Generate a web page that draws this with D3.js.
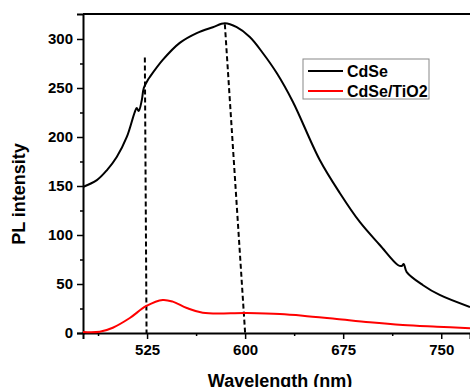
<!DOCTYPE html>
<html>
<head>
<meta charset="utf-8">
<script src="https://cdn.jsdelivr.net/npm/d3@7"></script>
<style>
  body { margin: 0; background: #fff; }
  svg { display: block; font-family: "Liberation Sans", Arial, sans-serif; }
</style>
</head>
<body>
<div id="chart"></div>
<script>
// CdSe spectrum (wavelength nm, PL intensity)
const cdseWave = [476, 486.6, 494.2, 501.8, 509.5, 515.6, 517.1, 518.6, 521, 522.5, 525.5, 527, 537, 550, 563, 575.3, 584.5, 593.6, 603.6, 613.5, 624.3, 636.5, 657.1, 672.4, 687.7, 703, 716.8, 719.8, 721.3, 723.6, 735.8, 748.8, 772];
const cdseInt  = [149, 156, 166, 179.6, 200, 225.5, 229.6, 226.5, 237.8, 250, 258, 261, 278.6, 296, 306, 312, 316, 312, 302, 285.7, 265, 236, 176.5, 142.9, 113.3, 89.8, 69.4, 68.4, 70.4, 62.2, 49, 38.8, 26.5];

// CdSe/TiO2 spectrum
const tio2Wave = [476, 488.8, 498.8, 511.8, 524.5, 537, 544.7, 555.4, 567.6, 601.3, 626.5, 644.1, 670.1, 695.4, 720.6, 746.7, 772];
const tio2Int  = [1, 1.3, 5.4, 15.3, 27.6, 33.7, 32, 25.5, 20.7, 20.4, 19.4, 17.7, 14.3, 10.9, 8.2, 6.4, 4.8];

// dashed guide lines: [x1, y1, x2, y2] in data units
const guideLines = [[523.3, 281, 524.6, 0], [584.5, 315, 600, 0]];

const xTicks = [525, 600, 675, 750];
const xMinor = [487.5, 562.5, 637.5, 712.5];
const yTicks = [0, 50, 100, 150, 200, 250, 300];
const yMinor = [25, 75, 125, 175, 225, 275];

const seriesNames = ["CdSe", "CdSe/TiO2"];
const seriesColors = ["#000000", "#ff0000"];

const W = 470, H = 387;
const svg = d3.select("#chart").append("svg").attr("width", W).attr("height", H);

const x = d3.scaleLinear().domain([476, 772]).range([83, 470]);
const y = d3.scaleLinear().domain([0, 325.5]).range([333, 14]);

// frame top
svg.append("line")
	.attr("x1", 83).attr("x2", W).attr("y1", 14).attr("y2", 14)
	.attr("stroke", "#000").attr("stroke-width", 2);

// y axis
svg.append("g").attr("transform", "translate(83,0)")
	.call(d3.axisLeft(y).tickValues(yTicks).tickSize(6).tickPadding(4));
svg.append("g").attr("transform", "translate(83,0)")
	.call(d3.axisLeft(y).tickValues(yMinor).tickSize(3).tickFormat(""))
	.select(".domain").remove();

// x axis
svg.append("g").attr("transform", "translate(0,333)")
	.call(d3.axisBottom(x).tickValues(xTicks).tickSize(6).tickPadding(5));
svg.append("g").attr("transform", "translate(0,333)")
	.call(d3.axisBottom(x).tickValues(xMinor).tickSize(3).tickFormat(""))
	.select(".domain").remove();

svg.selectAll(".domain").attr("stroke-width", 2);
svg.selectAll(".tick line").attr("stroke-width", 1.5);
svg.selectAll(".tick text")
	.attr("font-size", 15).attr("font-weight", "bold")
	.attr("font-family", "Liberation Sans, Arial, sans-serif").attr("fill", "#000");

// dashed lines
svg.selectAll(".guide").data(guideLines).enter().append("line")
	.attr("x1", d => x(d[0])).attr("y1", d => y(d[1]))
	.attr("x2", d => x(d[2])).attr("y2", d => y(d[3]))
	.attr("stroke", "#000").attr("stroke-width", 2)
	.attr("stroke-dasharray", "5,3");

const line = d3.line()
	.x(d => x(d[0])).y(d => y(d[1]))
	.curve(d3.curveCatmullRom.alpha(0.5));

const series = [
	d3.zip(cdseWave, cdseInt),
	d3.zip(tio2Wave, tio2Int)
];

svg.selectAll(".series").data(series).enter().append("path")
	.attr("d", line)
	.attr("fill", "none")
	.attr("stroke", (d, i) => seriesColors[i])
	.attr("stroke-width", 2);

// axis titles (the x title is cut by the bottom edge, as in the original)
svg.append("text")
	.attr("transform", "translate(25,194) rotate(-90)")
	.attr("text-anchor", "middle")
	.attr("font-size", 18).attr("font-weight", "bold")
	.text("PL intensity");

svg.append("text")
	.attr("x", 280).attr("y", 387)
	.attr("text-anchor", "middle")
	.attr("font-size", 18).attr("font-weight", "bold")
	.text("Wavelength (nm)");

// legend
const legend = svg.append("g");
legend.append("rect")
	.attr("x", 303).attr("y", 59).attr("width", 126).attr("height", 40)
	.attr("fill", "#fff").attr("stroke", "#888").attr("stroke-width", 1);
seriesNames.forEach((name, i) => {
	const ly = 71 + i * 20;
	legend.append("line")
		.attr("x1", 308).attr("x2", 343).attr("y1", ly).attr("y2", ly)
		.attr("stroke", seriesColors[i]).attr("stroke-width", 2);
	legend.append("text")
		.attr("x", 347).attr("y", ly + 5.5)
		.attr("font-size", 16).attr("font-weight", "bold")
		.text(name);
});
</script>
</body>
</html>
